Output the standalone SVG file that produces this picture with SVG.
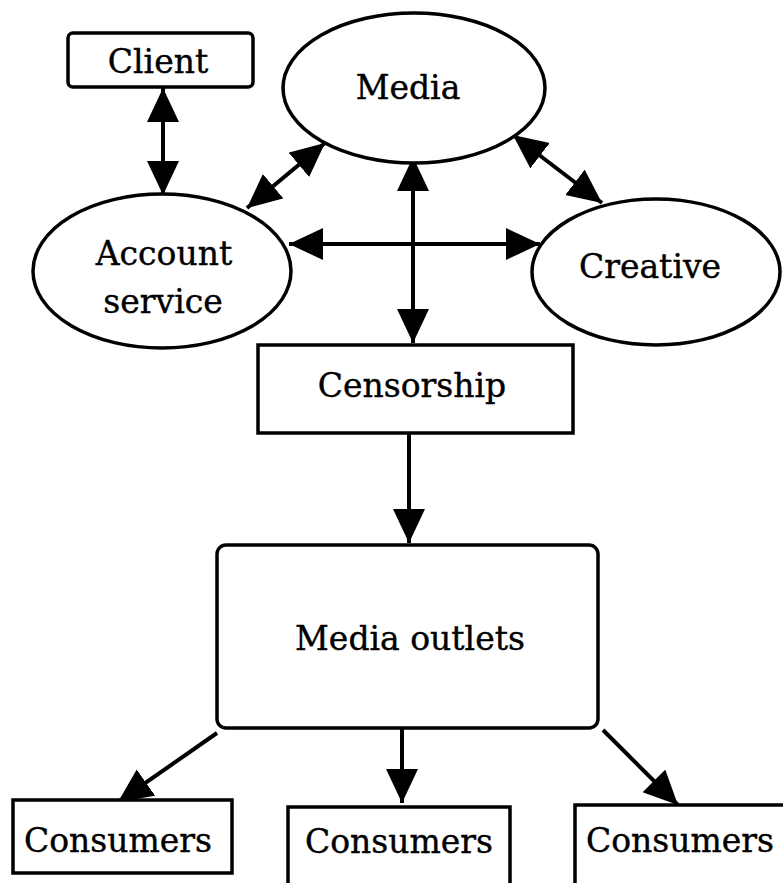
<svg xmlns="http://www.w3.org/2000/svg" width="783" height="883" viewBox="0 0 783 883">
  <style>
    .shape { fill: #ffffff; stroke: #000000; stroke-width: 3.5; }
    .label { font-family: "DejaVu Serif", "Liberation Serif", serif; font-size: 33px; fill: #000000; stroke: #000000; stroke-width: 0.4; text-anchor: middle; }
    .link { fill: none; stroke: #000000; stroke-width: 4; }
    .two { marker-start: url(#head); marker-end: url(#head); }
    .one { marker-end: url(#head); }
  </style>
  <defs>
    <marker id="head" markerUnits="userSpaceOnUse" markerWidth="38" markerHeight="34" refX="34" refY="16" orient="auto-start-reverse">
      <path d="M0,0 L34,16 L0,32 Z" fill="#000000"/>
    </marker>
  </defs>
  <rect width="783" height="883" fill="#ffffff"/>

  <g id="connectors">
    <line class="link two" x1="163" y1="88" x2="163" y2="195"/>
    <line class="link two" x1="247" y1="208" x2="325" y2="143"/>
    <line class="link two" x1="513" y1="135" x2="602" y2="203"/>
    <line class="link two" x1="289" y1="244" x2="540" y2="244"/>
    <line class="link two" x1="413" y1="157" x2="413" y2="343"/>
    <line class="link one" x1="409" y1="433" x2="409" y2="543"/>
    <line class="link one" x1="217" y1="733" x2="118" y2="802"/>
    <line class="link one" x1="402" y1="728" x2="402" y2="803"/>
    <line class="link one" x1="603" y1="730" x2="678" y2="805"/>
  </g>

  <g id="client">
    <rect class="shape" x="68" y="33" width="185" height="54" rx="5"/>
    <text class="label" x="158" y="73">Client</text>
  </g>
  <g id="media">
    <ellipse class="shape" cx="414" cy="88" rx="131" ry="75"/>
    <text class="label" x="408" y="99">Media</text>
  </g>
  <g id="account-service">
    <ellipse class="shape" cx="162" cy="271" rx="129" ry="77"/>
    <text class="label" x="164" y="265">Account</text>
    <text class="label" x="163" y="313">service</text>
  </g>
  <g id="creative">
    <ellipse class="shape" cx="656" cy="272" rx="124" ry="73"/>
    <text class="label" x="650" y="278">Creative</text>
  </g>
  <g id="censorship">
    <rect class="shape" x="258" y="345" width="315" height="88"/>
    <text class="label" x="412" y="397">Censorship</text>
  </g>
  <g id="media-outlets">
    <rect class="shape" x="217" y="545" width="381" height="183" rx="9"/>
    <text class="label" x="410" y="650">Media outlets</text>
  </g>
  <g id="consumers-1">
    <rect class="shape" x="13" y="800" width="219" height="73"/>
    <text class="label" x="118" y="852">Consumers</text>
  </g>
  <g id="consumers-2">
    <rect class="shape" x="288" y="807" width="222" height="80"/>
    <text class="label" x="399" y="853">Consumers</text>
  </g>
  <g id="consumers-3">
    <rect class="shape" x="575" y="805" width="220" height="90"/>
    <text class="label" x="680" y="852">Consumers</text>
  </g>
</svg>
